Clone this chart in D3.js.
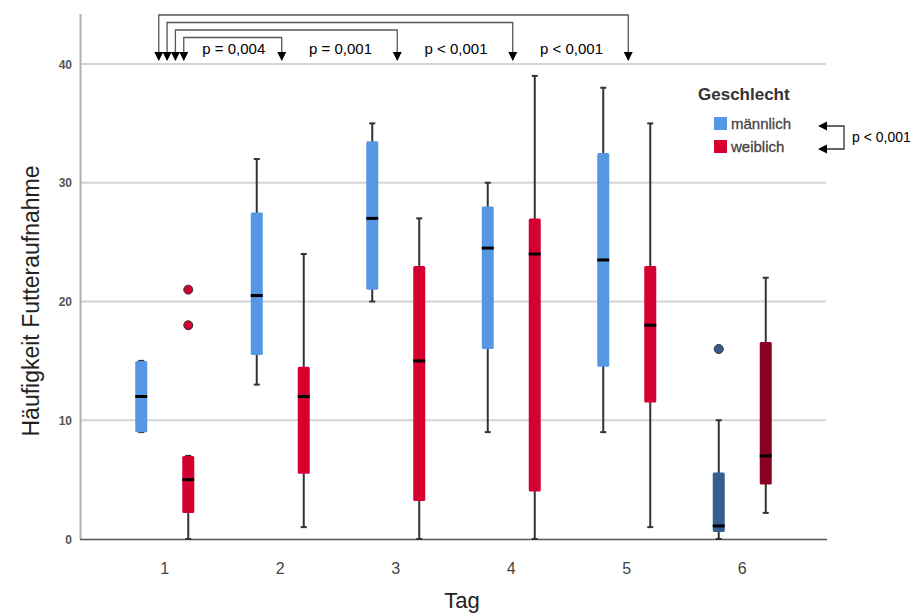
<!DOCTYPE html>
<html>
<head>
<meta charset="utf-8">
<script src="https://cdn.jsdelivr.net/npm/d3@7"></script>
<style>
	body { margin: 0; background: #fff; }
	svg { font-family: 'Liberation Sans', Arial, sans-serif; }
</style>
</head>
<body>
<div id="chart"></div>
<script>
const days = [1, 2, 3, 4, 5, 6];
const genders = ['männlich', 'weiblich'];
const yTicks = [0, 10, 20, 30, 40];

const maleMin = [9, 13, 20, 9, 9, 0];
const maleQ1 = [9, 15.5, 21, 16, 14.5, 0.6];
const maleMedian = [12, 20.5, 27, 24.5, 23.5, 1.1];
const maleQ3 = [15, 27.5, 33.5, 28, 32.5, 5.6];
const maleMax = [15, 32, 35, 30, 38, 10];
const maleOutliers = [[], [], [], [], [], [16]];

const femaleMin = [0, 1, 0, 0, 1, 2.2];
const femaleQ1 = [2.2, 5.5, 3.2, 4, 11.5, 4.6];
const femaleMedian = [5, 12, 15, 24, 18, 7];
const femaleQ3 = [7, 14.5, 23, 27, 23, 16.6];
const femaleMax = [7, 24, 27, 39, 35, 22];
const femaleOutliers = [[21, 18], [], [], [], [], []];

const compareDays = [2, 3, 4, 5];
const compareLabels = ['p = 0,004', 'p = 0,001', 'p < 0,001', 'p < 0,001'];
const genderLabel = 'p < 0,001';

const width = 913;
const height = 613;

const svg = d3
	.select('#chart')
	.append('svg')
	.attr('width', width)
	.attr('height', height);

const x = d3.scaleBand().domain(days).range([107, 800]);
const xGender = d3.scalePoint().domain(genders).range([-23.5, 23.5]);
const y = d3.scaleLinear().domain([0, 40]).range([539, 64]);

const colors = {
	'männlich': '#5597e2',
	'weiblich': '#d5002f',
};
const darkColors = {
	'männlich': '#355f91',
	'weiblich': '#8a0022',
};

// gridlines
svg
	.selectAll('.grid')
	.data(yTicks.filter((d) => d > 0))
	.join('line')
	.attr('class', 'grid')
	.attr('x1', 80)
	.attr('x2', 826)
	.attr('y1', (d) => y(d))
	.attr('y2', (d) => y(d))
	.attr('stroke', '#d4d4d4')
	.attr('stroke-width', 2);

// axes lines
svg
	.append('line')
	.attr('x1', 80.5)
	.attr('x2', 80.5)
	.attr('y1', 14)
	.attr('y2', 539)
	.attr('stroke', '#b0b0b0')
	.attr('stroke-width', 2);

svg
	.append('line')
	.attr('x1', 80)
	.attr('x2', 827)
	.attr('y1', 539.5)
	.attr('y2', 539.5)
	.attr('stroke', '#555')
	.attr('stroke-width', 1.5);

// y tick labels
svg
	.selectAll('.ytick')
	.data(yTicks)
	.join('text')
	.attr('class', 'ytick')
	.attr('x', 72)
	.attr('y', (d) => y(d) + 4.5)
	.attr('text-anchor', 'end')
	.style('font-size', '12px')
	.style('font-weight', 'bold')
	.attr('fill', '#555')
	.text((d) => d);

// x tick labels
svg
	.selectAll('.xtick')
	.data(days)
	.join('text')
	.attr('class', 'xtick')
	.attr('x', (d) => x(d) + x.bandwidth() / 2)
	.attr('y', 574)
	.attr('text-anchor', 'middle')
	.style('font-size', '16px')
	.attr('fill', '#444')
	.text((d) => d);

svg
	.append('text')
	.attr('x', 462)
	.attr('y', 608)
	.attr('text-anchor', 'middle')
	.style('font-size', '22px')
	.attr('fill', '#222')
	.text('Tag');

svg
	.append('text')
	.attr('transform', 'translate(39,301) rotate(-90)')
	.attr('text-anchor', 'middle')
	.style('font-size', '23px')
	.attr('fill', '#222')
	.text('Häufigkeit Futteraufnahme');

// box data
const boxes = [];
days.forEach((day, i) => {
	boxes.push({
		day: day,
		gender: 'männlich',
		min: maleMin[i],
		q1: maleQ1[i],
		median: maleMedian[i],
		q3: maleQ3[i],
		max: maleMax[i],
		outliers: maleOutliers[i],
		color: day === 6 ? darkColors['männlich'] : colors['männlich'],
	});
	boxes.push({
		day: day,
		gender: 'weiblich',
		min: femaleMin[i],
		q1: femaleQ1[i],
		median: femaleMedian[i],
		q3: femaleQ3[i],
		max: femaleMax[i],
		outliers: femaleOutliers[i],
		color: day === 6 ? darkColors['weiblich'] : colors['weiblich'],
	});
});

const cx = (d) => x(d.day) + x.bandwidth() / 2 + xGender(d.gender);
const boxWidth = 12;
const capWidth = 6;

const boxGroup = svg
	.selectAll('.box')
	.data(boxes)
	.join('g')
	.attr('class', 'box');

boxGroup
	.append('line')
	.attr('x1', cx)
	.attr('x2', cx)
	.attr('y1', (d) => y(d.min))
	.attr('y2', (d) => y(d.max))
	.attr('stroke', '#333')
	.attr('stroke-width', 2);

boxGroup
	.append('line')
	.attr('x1', (d) => cx(d) - capWidth / 2)
	.attr('x2', (d) => cx(d) + capWidth / 2)
	.attr('y1', (d) => y(d.max))
	.attr('y2', (d) => y(d.max))
	.attr('stroke', '#333')
	.attr('stroke-width', 2);

boxGroup
	.append('line')
	.attr('x1', (d) => cx(d) - capWidth / 2)
	.attr('x2', (d) => cx(d) + capWidth / 2)
	.attr('y1', (d) => y(d.min))
	.attr('y2', (d) => y(d.min))
	.attr('stroke', '#333')
	.attr('stroke-width', 2);

boxGroup
	.append('rect')
	.attr('x', (d) => cx(d) - boxWidth / 2)
	.attr('width', boxWidth)
	.attr('y', (d) => y(d.q3))
	.attr('height', (d) => y(d.q1) - y(d.q3))
	.attr('rx', 1.5)
	.attr('fill', (d) => d.color);

boxGroup
	.append('line')
	.attr('x1', (d) => cx(d) - boxWidth / 2)
	.attr('x2', (d) => cx(d) + boxWidth / 2)
	.attr('y1', (d) => y(d.median))
	.attr('y2', (d) => y(d.median))
	.attr('stroke', '#000')
	.attr('stroke-width', 3);

boxGroup
	.selectAll('circle')
	.data((d) => d.outliers.map((v) => ({ v: v, box: d })))
	.join('circle')
	.attr('cx', (d) => cx(d.box))
	.attr('cy', (d) => y(d.v))
	.attr('r', 4.5)
	.attr('fill', (d) => d.box.color)
	.attr('stroke', '#333')
	.attr('stroke-width', 1);

// comparison brackets
const startX = x(1) + x.bandwidth() / 2;
const bracketLeft = d3.scaleLinear().domain([0, 3]).range([startX + 19, startX - 6]);
const bracketTop = d3.scaleLinear().domain([0, 3]).range([37.5, 15]);
const bracketRight = (d) => x(d) + x.bandwidth() / 2 + 1.5;

const brackets = svg
	.selectAll('.bracket')
	.data(compareDays)
	.join('g')
	.attr('class', 'bracket');

brackets
	.append('path')
	.attr('d', (d, i) => {
		const x0 = bracketLeft(i);
		const x1 = bracketRight(d);
		const t = bracketTop(i);
		return `M${x0},60 L${x0},${t} L${x1},${t} L${x1},60`;
	})
	.attr('fill', 'none')
	.attr('stroke', '#555')
	.attr('stroke-width', 1.3);

brackets
	.append('path')
	.attr('d', (d, i) => {
		const x0 = bracketLeft(i);
		const x1 = bracketRight(d);
		return `M${x0 - 4.5},52 L${x0 + 4.5},52 L${x0},61 Z M${x1 - 4.5},52 L${x1 + 4.5},52 L${x1},61 Z`;
	})
	.attr('fill', '#000');

brackets
	.append('text')
	.attr('x', (d, i) => {
		const prev = i === 0 ? bracketLeft(0) : bracketRight(compareDays[i - 1]);
		return (prev + bracketRight(d)) / 2 + 1;
	})
	.attr('y', 53.5)
	.attr('text-anchor', 'middle')
	.style('font-size', '15px')
	.attr('fill', '#000')
	.text((d, i) => compareLabels[i]);

// legend
const legend = svg.append('g').attr('transform', 'translate(698,0)');

legend
	.append('text')
	.attr('x', 0)
	.attr('y', 100)
	.style('font-size', '17px')
	.style('font-weight', 'bold')
	.attr('fill', '#333')
	.text('Geschlecht');

const legendItem = legend
	.selectAll('.legend-item')
	.data(genders)
	.join('g')
	.attr('class', 'legend-item')
	.attr('transform', (d, i) => `translate(16,${117 + i * 23})`);

legendItem
	.append('rect')
	.attr('width', 13)
	.attr('height', 13)
	.attr('fill', (d) => colors[d]);

legendItem
	.append('text')
	.attr('x', 17)
	.attr('y', 12)
	.style('font-size', '15px')
	.attr('fill', '#444')
	.attr('stroke', '#444')
	.attr('stroke-width', 0.3)
	.text((d) => d);

svg
	.append('path')
	.attr('d', 'M820,126 L844,126 L844,149 L820,149')
	.attr('fill', 'none')
	.attr('stroke', '#333')
	.attr('stroke-width', 1.3);

svg
	.append('path')
	.attr('d', 'M818,126 L827,121.5 L827,130.5 Z M818,149 L827,144.5 L827,153.5 Z')
	.attr('fill', '#000');

svg
	.append('text')
	.attr('x', 852)
	.attr('y', 142)
	.style('font-size', '14px')
	.attr('fill', '#000')
	.text(genderLabel);
</script>
</body>
</html>
